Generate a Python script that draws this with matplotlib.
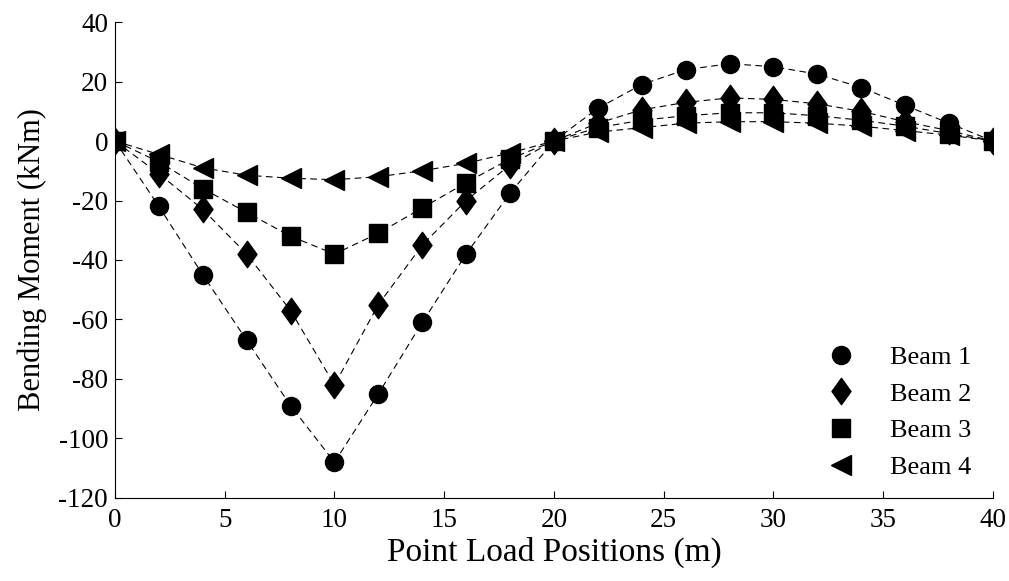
import numpy as np
import matplotlib
matplotlib.use("Agg")
import matplotlib.pyplot as plt
from matplotlib.path import Path

plt.rcParams["font.family"] = ["Liberation Serif", "DejaVu Serif"]
plt.rcParams["axes.unicode_minus"] = False

# Data
positions = np.arange(0, 41, 2)
beam1 = [0, -22, -45, -67, -89, -108, -85, -61, -38, -17.5, 0,
         11, 19, 24, 26, 25, 22.5, 18, 12, 6, 0]
beam2 = [0, -11, -23, -38, -57, -82, -55, -35, -20, -8, 0,
         6, 10.5, 13, 14.5, 14, 12.5, 10, 6.5, 3.5, 0]
beam3 = [0, -7, -16, -24, -32, -38, -31, -22.5, -14, -6, 0,
         4.5, 7, 8.5, 9.5, 9.5, 8.5, 7, 5, 2.5, 0]
beam4 = [0, -4.5, -9, -11.5, -12.5, -13, -12, -10, -7.5, -4, 0,
         3, 4.5, 6, 6.5, 6.5, 6, 5, 3.5, 2, 0]

# diamond a bit wider than matplotlib's thin 'd'
diamond = Path([(0, 1), (0.72, 0), (0, -1), (-0.72, 0), (0, 1)],
               [Path.MOVETO, Path.LINETO, Path.LINETO, Path.LINETO, Path.CLOSEPOLY])

series = [
    ("Beam 1", beam1, "o", 13),
    ("Beam 2", beam2, diamond, 19),
    ("Beam 3", beam3, "s", 12.5),
    ("Beam 4", beam4, "<", 14),
]

fig = plt.figure(figsize=(10.09, 5.81), dpi=100)
ax = fig.add_axes([0.114, 0.143, 0.870, 0.819])

for label, vals, mk, ms in series:
    ax.plot(positions, vals, color="black", linestyle=(0, (6, 4)), linewidth=0.8)
    ax.plot(positions, vals, linestyle="none", marker=mk, markersize=ms,
            color="black", label=label)

ax.set_xlim(0, 40)
ax.set_ylim(-120, 40)
ax.set_xticks(np.arange(0, 41, 5))
ax.set_yticks(np.arange(-120, 41, 20))

ax.spines["top"].set_visible(False)
ax.spines["right"].set_visible(False)
ax.tick_params(direction="in", length=5, labelsize=19.5, pad=5)
ax.tick_params(axis="x", pad=7)

ax.set_xlabel("Point Load Positions (m)", fontsize=24, labelpad=3)
ax.set_ylabel("Bending Moment (kNm)", fontsize=22, labelpad=8)

ax.legend(loc="lower right", frameon=False, fontsize=19, handletextpad=0.85,
          labelspacing=0.5, borderpad=0, bbox_to_anchor=(0.99, 0.012))

fig.savefig("out.png", dpi=100)
